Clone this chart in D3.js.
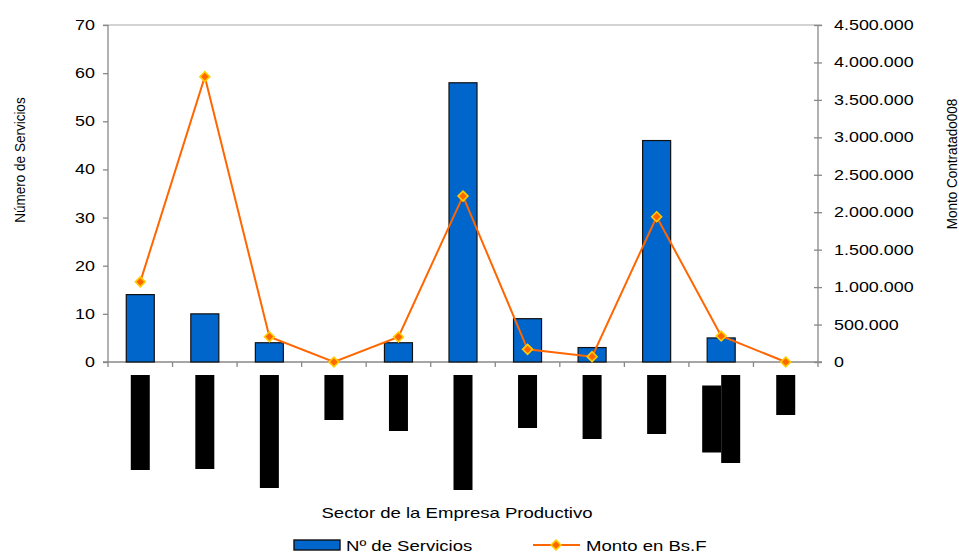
<!DOCTYPE html>
<html>
<head>
<meta charset="utf-8">
<script src="https://cdn.jsdelivr.net/npm/d3@7"></script>
<style>
  body { margin: 0; background: #fff; }
  text { font-family: "Liberation Sans", Arial, sans-serif; fill: #000; }
</style>
</head>
<body>
<div id="container"></div>
<script>
// sector labels are blacked out in the source; only their line lengths (px) are known
const categories = ["s1", "s2", "s3", "s4", "s5", "s6", "s7", "s8", "s9", "s10", "s11"]
const labelLines = [[95], [94], [113], [45], [56], [115], [53], [64], [59], [67, 88], [40]]

const servicios = [14, 10, 4, 0, 4, 58, 9, 3, 46, 5, 0]
const monto = [1070000, 3810000, 338000, 0, 334000, 2215000, 169000, 71000, 1940000, 347000, 0]

const leftTicks = [0, 10, 20, 30, 40, 50, 60, 70]
const rightTicks = [0, 500000, 1000000, 1500000, 2000000, 2500000, 3000000, 3500000, 4000000, 4500000]

const W = 959, H = 554
const plot = { left: 108, right: 818, top: 25, bottom: 362 }
const sx = 1.28 // the source picture is stretched sideways

const svg = d3.select("div#container")
    .append("svg")
    .attr("width", W)
    .attr("height", H)

const x = d3.scaleBand()
    .domain(categories)
    .range([plot.left, plot.right])
    .paddingInner(0.566)
    .paddingOuter(0.283)

const yL = d3.scaleLinear().domain([0, 70]).range([plot.bottom, plot.top])
const yR = d3.scaleLinear().domain([0, 4500000]).range([plot.bottom, plot.top])

const es = d3.formatLocale({ decimal: ",", thousands: ".", grouping: [3], currency: ["", ""] })
const fmt = es.format(",")

const cx = c => x(c) + x.bandwidth() / 2

// top border
svg.append("line")
    .attr("x1", plot.left - 5).attr("x2", plot.right + 4)
    .attr("y1", plot.top).attr("y2", plot.top)
    .attr("stroke", "#c4c4c4").attr("stroke-width", 1.3)

// left axis
const gl = svg.append("g").attr("transform", `translate(${plot.left},0)`)
    .call(d3.axisLeft(yL).tickValues(leftTicks).tickSize(5).tickFormat(""))
gl.selectAll("path,line").attr("stroke", "#888").attr("stroke-width", 1.3)
gl.select(".domain").attr("d", `M0,${plot.top}V${plot.bottom}`)

leftTicks.forEach(t => {
    svg.append("text")
        .attr("transform", `translate(95,${yL(t)}) scale(${sx},1)`)
        .attr("text-anchor", "end")
        .attr("dy", "0.36em")
        .style("font-size", "14px")
        .text(t)
})

// right axis
const gr = svg.append("g").attr("transform", `translate(${plot.right},0)`)
    .call(d3.axisRight(yR).tickValues(rightTicks).tickSize(4).tickFormat(""))
gr.selectAll("path,line").attr("stroke", "#888").attr("stroke-width", 1.3)
gr.selectAll(".tick line").attr("x1", -4)
gr.select(".domain").attr("d", `M0,${plot.top}V${plot.bottom}`)

rightTicks.forEach(t => {
    svg.append("text")
        .attr("transform", `translate(834,${yR(t)}) scale(${sx},1)`)
        .attr("dy", "0.36em")
        .style("font-size", "14px")
        .text(fmt(t))
})

// bottom axis with ticks on category boundaries
svg.append("line")
    .attr("x1", plot.left - 5).attr("x2", plot.right + 4)
    .attr("y1", plot.bottom).attr("y2", plot.bottom)
    .attr("stroke", "#888").attr("stroke-width", 1.3)
const step = x.step()
svg.selectAll(".xtick")
    .data(d3.range(categories.length + 1))
    .enter()
    .append("line")
    .attr("class", "xtick")
    .attr("x1", i => plot.left + i * step).attr("x2", i => plot.left + i * step)
    .attr("y1", plot.bottom).attr("y2", plot.bottom + 5)
    .attr("stroke", "#888").attr("stroke-width", 1.3)

// bars
svg.selectAll(".bar")
    .data(categories)
    .enter()
    .append("rect")
    .attr("class", "bar")
    .attr("x", c => x(c))
    .attr("width", x.bandwidth())
    .attr("y", (c, i) => yL(servicios[i]))
    .attr("height", (c, i) => plot.bottom - yL(servicios[i]))
    .attr("fill", "#0066cc")
    .attr("stroke", "#111")
    .attr("stroke-width", 1.2)

// line
const line = d3.line()
    .x((d, i) => cx(categories[i]))
    .y(d => yR(d))

svg.append("path")
    .datum(monto)
    .attr("d", line)
    .attr("fill", "none")
    .attr("stroke", "#ff6600")
    .attr("stroke-width", 2)

const diamond = d3.symbol().type(d3.symbolDiamond2).size(62)
svg.selectAll(".pt")
    .data(monto)
    .enter()
    .append("path")
    .attr("class", "pt")
    .attr("d", diamond)
    .attr("transform", (d, i) => `translate(${cx(categories[i])},${yR(d)})`)
    .attr("fill", "#ff6600")
    .attr("stroke", "#ffcc00")
    .attr("stroke-width", 1.6)

// redacted category labels (rotated text rendered as black blocks)
const lineW = 19
categories.forEach((c, i) => {
    const lines = labelLines[i]
    const longest = d3.max(lines)
    const x0 = cx(c) - lines.length * lineW / 2
    lines.forEach((len, j) => {
        svg.append("rect")
            .attr("x", x0 + j * lineW)
            .attr("y", plot.bottom + 13 + (longest - len) / 2)
            .attr("width", lineW)
            .attr("height", len)
            .attr("fill", "#000")
    })
})

// axis titles
svg.append("text")
    .attr("transform", "translate(25,160) scale(1.1,1) rotate(-90)")
    .attr("text-anchor", "middle")
    .style("font-size", "13.5px")
    .text("Número de Servicios")

svg.append("text")
    .attr("transform", "translate(957,164) scale(1.1,1) rotate(-90)")
    .attr("text-anchor", "middle")
    .style("font-size", "13.5px")
    .text("Monto Contratado008")

svg.append("text")
    .attr("transform", `translate(457,518) scale(${sx},1)`)
    .attr("text-anchor", "middle")
    .style("font-size", "14.5px")
    .text("Sector de la Empresa Productivo")

// legend
const lg = svg.append("g")
lg.append("rect")
    .attr("x", 294).attr("y", 540).attr("width", 46).attr("height", 10)
    .attr("fill", "#0066cc").attr("stroke", "#111").attr("stroke-width", 1.4)
lg.append("text")
    .attr("transform", `translate(346,551) scale(${sx},1)`)
    .style("font-size", "14.5px")
    .text("Nº de Servicios")
lg.append("line")
    .attr("x1", 533).attr("x2", 580).attr("y1", 545).attr("y2", 545)
    .attr("stroke", "#ff6600").attr("stroke-width", 2)
lg.append("path")
    .attr("d", diamond)
    .attr("transform", "translate(556,545)")
    .attr("fill", "#ff6600").attr("stroke", "#ffcc00").attr("stroke-width", 1.6)
lg.append("text")
    .attr("transform", `translate(586,551) scale(${sx},1)`)
    .style("font-size", "14.5px")
    .text("Monto en Bs.F")
</script>
</body>
</html>
